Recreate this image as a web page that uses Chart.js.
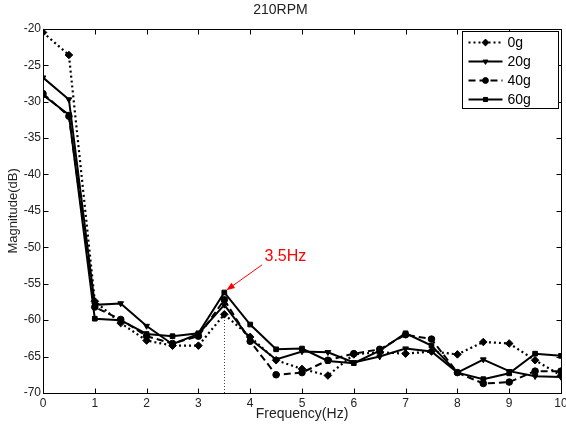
<!DOCTYPE html>
<html>
<head>
<meta charset="utf-8">
<script src="https://cdn.jsdelivr.net/npm/chart.js@4.4.1/dist/chart.umd.min.js"></script>
<style>
  html, body { margin: 0; padding: 0; background: #fff; }
</style>
</head>
<body>
<canvas id="spectrum" width="566" height="427"></canvas>
<script>
/* 210RPM spectrum — magnitude vs frequency for four loads */

var FREQ = [0, 0.5, 1, 1.5, 2, 2.5, 3, 3.5, 4, 4.5, 5, 5.5, 6, 6.5, 7, 7.5, 8, 8.5, 9, 9.5, 10];
var MAG_0G  = [-20.5, -23.6, -57.4, -60.4, -62.8, -63.5, -63.5, -59.2, -62.3, -65.5, -66.7, -67.6, -64.7, -64.4, -64.6, -64.3, -64.7, -63.0, -63.2, -65.5, -67.6];
var MAG_20G = [-26.7, -29.7, -57.9, -57.7, -60.8, -63.3, -61.9, -57.9, -62.6, -65.4, -64.3, -64.4, -65.8, -65.0, -63.9, -64.3, -67.2, -65.4, -67.0, -67.7, -67.8];
var MAG_40G = [-28.9, -32.0, -58.2, -59.9, -62.2, -63.2, -62.2, -57.2, -62.9, -67.5, -67.2, -65.5, -64.6, -64.0, -62.0, -62.6, -67.2, -68.7, -68.5, -67.0, -67.0];
var MAG_60G = [-29.1, -31.8, -59.8, -60.0, -61.9, -62.2, -61.8, -56.2, -60.6, -64.0, -63.9, -65.6, -65.9, -64.2, -61.8, -63.5, -67.2, -68.1, -67.3, -64.6, -64.9];
var SERIES_LABELS = ['0g', '20g', '40g', '60g'];

var X_TICKS = [0, 1, 2, 3, 4, 5, 6, 7, 8, 9, 10];
var Y_TICKS = [-70, -65, -60, -55, -50, -45, -40, -35, -30, -25, -20];

// annotation (data units)
var PEAK_FREQ = 3.5;
var PEAK_GUIDE_TOP = -58.7;
var PEAK_LABEL = '3.5Hz';
var ARROW_FROM = [4.23, -52.4];
var ARROW_TO = [3.54, -55.9];
var LABEL_AT = [4.68, -51.3];

var FONT = '"Liberation Sans", Arial, sans-serif';

function pts(ys) {
  return FREQ.map(function(x, i) { return { x: x, y: ys[i] }; });
}

function series(label, data, dash, style, width, rot) {
  return {
    label: label,
    data: pts(data),
    borderColor: '#000',
    backgroundColor: '#000',
    borderWidth: width,
    borderDash: dash,
    pointStyle: style,
    pointRotation: rot || 0,
    pointRadius: style === 'rectRot' ? 3.8 : 3.3,
    pointBorderWidth: 1,
    pointBorderColor: '#000',
    pointBackgroundColor: '#000',
    tension: 0,
    fill: false
  };
}

// plot box with inward ticks, peak guide, arrow and legend
var decor = {
  id: 'decor',
  beforeDatasetsDraw: function(chart) {
    var ctx = chart.ctx, xs = chart.scales.x, ys = chart.scales.y;
    var px = Math.round(xs.getPixelForValue(PEAK_FREQ)) + 0.5;
    ctx.save();
    ctx.strokeStyle = '#444';
    ctx.lineWidth = 1;
    ctx.setLineDash([1, 2]);
    ctx.beginPath();
    ctx.moveTo(px, ys.getPixelForValue(-70));
    ctx.lineTo(px, ys.getPixelForValue(PEAK_GUIDE_TOP));
    ctx.stroke();
    ctx.restore();
  },
  afterDatasetsDraw: function(chart) {
    var ctx = chart.ctx, a = chart.chartArea, xs = chart.scales.x, ys = chart.scales.y;
    ctx.save();
    ctx.strokeStyle = '#000';
    ctx.lineWidth = 1;
    ctx.setLineDash([]);
    var L = Math.round(a.left) + 0.5, R = Math.round(a.right) + 0.5;
    var T = Math.round(a.top) + 0.5, B = Math.round(a.bottom) + 0.5;
    ctx.strokeRect(L, T, R - L, B - T);
    ctx.beginPath();
    X_TICKS.forEach(function(v) {
      var x = Math.round(xs.getPixelForValue(v)) + 0.5;
      ctx.moveTo(x, B); ctx.lineTo(x, B - 5);
      ctx.moveTo(x, T); ctx.lineTo(x, T + 5);
    });
    Y_TICKS.forEach(function(v) {
      var y = Math.round(ys.getPixelForValue(v)) + 0.5;
      ctx.moveTo(L, y); ctx.lineTo(L + 5, y);
      ctx.moveTo(R, y); ctx.lineTo(R - 5, y);
    });
    ctx.stroke();

    // red arrow + label
    var x1 = xs.getPixelForValue(ARROW_FROM[0]), y1 = ys.getPixelForValue(ARROW_FROM[1]);
    var x2 = xs.getPixelForValue(ARROW_TO[0]), y2 = ys.getPixelForValue(ARROW_TO[1]);
    var ang = Math.atan2(y2 - y1, x2 - x1);
    ctx.strokeStyle = '#ff0000';
    ctx.fillStyle = '#ff0000';
    ctx.beginPath(); ctx.moveTo(x1, y1); ctx.lineTo(x2 - 6 * Math.cos(ang), y2 - 6 * Math.sin(ang)); ctx.stroke();
    ctx.beginPath();
    ctx.moveTo(x2, y2);
    ctx.lineTo(x2 - 9 * Math.cos(ang - 0.35), y2 - 9 * Math.sin(ang - 0.35));
    ctx.lineTo(x2 - 9 * Math.cos(ang + 0.35), y2 - 9 * Math.sin(ang + 0.35));
    ctx.closePath(); ctx.fill();
    ctx.font = '16px ' + FONT;
    ctx.textAlign = 'center';
    ctx.textBaseline = 'middle';
    ctx.fillText(PEAK_LABEL, xs.getPixelForValue(LABEL_AT[0]), ys.getPixelForValue(LABEL_AT[1]));

    // legend box (top right, inside axes)
    var bx = 462.5, by = 31.5, bw = 96, bh = 77;
    ctx.fillStyle = '#fff';
    ctx.fillRect(bx, by, bw, bh);
    ctx.strokeStyle = '#000';
    ctx.strokeRect(bx, by, bw, bh);
    ctx.font = '14px ' + FONT;
    ctx.textAlign = 'left';
    ctx.textBaseline = 'middle';
    chart.data.datasets.forEach(function(ds, i) {
      var y = by + 11 + i * 19;
      ctx.strokeStyle = '#000';
      ctx.fillStyle = '#000';
      ctx.lineWidth = ds.borderWidth;
      ctx.setLineDash(ds.borderDash || []);
      ctx.beginPath(); ctx.moveTo(bx + 6, y); ctx.lineTo(bx + 40, y); ctx.stroke();
      ctx.setLineDash([]);
      ctx.lineWidth = 1;
      Chart.helpers.drawPoint(ctx, {
        pointStyle: ds.pointStyle, rotation: ds.pointRotation, radius: ds.pointRadius - 0.4, borderWidth: 1
      }, bx + 23, y);
      ctx.fillText(ds.label, bx + 45, y + 1);
    });
    ctx.restore();
  }
};

new Chart(document.getElementById('spectrum'), {
  type: 'line',
  data: {
    datasets: [
      series(SERIES_LABELS[0], MAG_0G, [2, 3], 'rectRot', 2.2),
      series(SERIES_LABELS[1], MAG_20G, [], 'triangle', 2, 180),
      series(SERIES_LABELS[2], MAG_40G, [7, 4], 'circle', 2),
      series(SERIES_LABELS[3], MAG_60G, [], 'rect', 2)
    ]
  },
  plugins: [decor],
  options: {
    responsive: false,
    animation: false,
    devicePixelRatio: 1,
    layout: { padding: { left: 0, right: 5, top: 0, bottom: 0 } },
    plugins: {
      legend: { display: false },
      tooltip: { enabled: false },
      title: {
        display: true,
        text: '210RPM',
        color: '#222',
        font: { family: FONT, size: 14, weight: 'normal' },
        padding: { top: 2, bottom: 10 }
      }
    },
    scales: {
      x: {
        type: 'linear',
        min: 0, max: 10,
        afterFit: function(s) { s.height = 34; s.paddingLeft = 0; s.paddingRight = 0; },
        afterBuildTicks: function(s) { s.ticks = X_TICKS.map(function(v) { return { value: v }; }); },
        grid: { display: false, drawTicks: false },
        border: { display: false },
        ticks: { color: '#222', padding: 3, maxRotation: 0, autoSkip: false, font: { family: FONT, size: 12 } },
        title: { display: true, text: 'Frequency(Hz)', color: '#222', font: { family: FONT, size: 14 }, padding: { top: 0, bottom: 4 } }
      },
      y: {
        type: 'linear',
        min: -70, max: -20,
        afterFit: function(s) { s.width = 43; s.paddingTop = 0; s.paddingBottom = 0; },
        afterBuildTicks: function(s) { s.ticks = Y_TICKS.map(function(v) { return { value: v }; }); },
        grid: { display: false, drawTicks: false },
        border: { display: false },
        ticks: { color: '#222', padding: 2, autoSkip: false, font: { family: FONT, size: 12 } },
        title: { display: true, text: 'Magnitude(dB)', color: '#222', font: { family: FONT, size: 13 }, padding: { top: 6, bottom: 0 } }
      }
    }
  }
});
</script>
</body>
</html>
